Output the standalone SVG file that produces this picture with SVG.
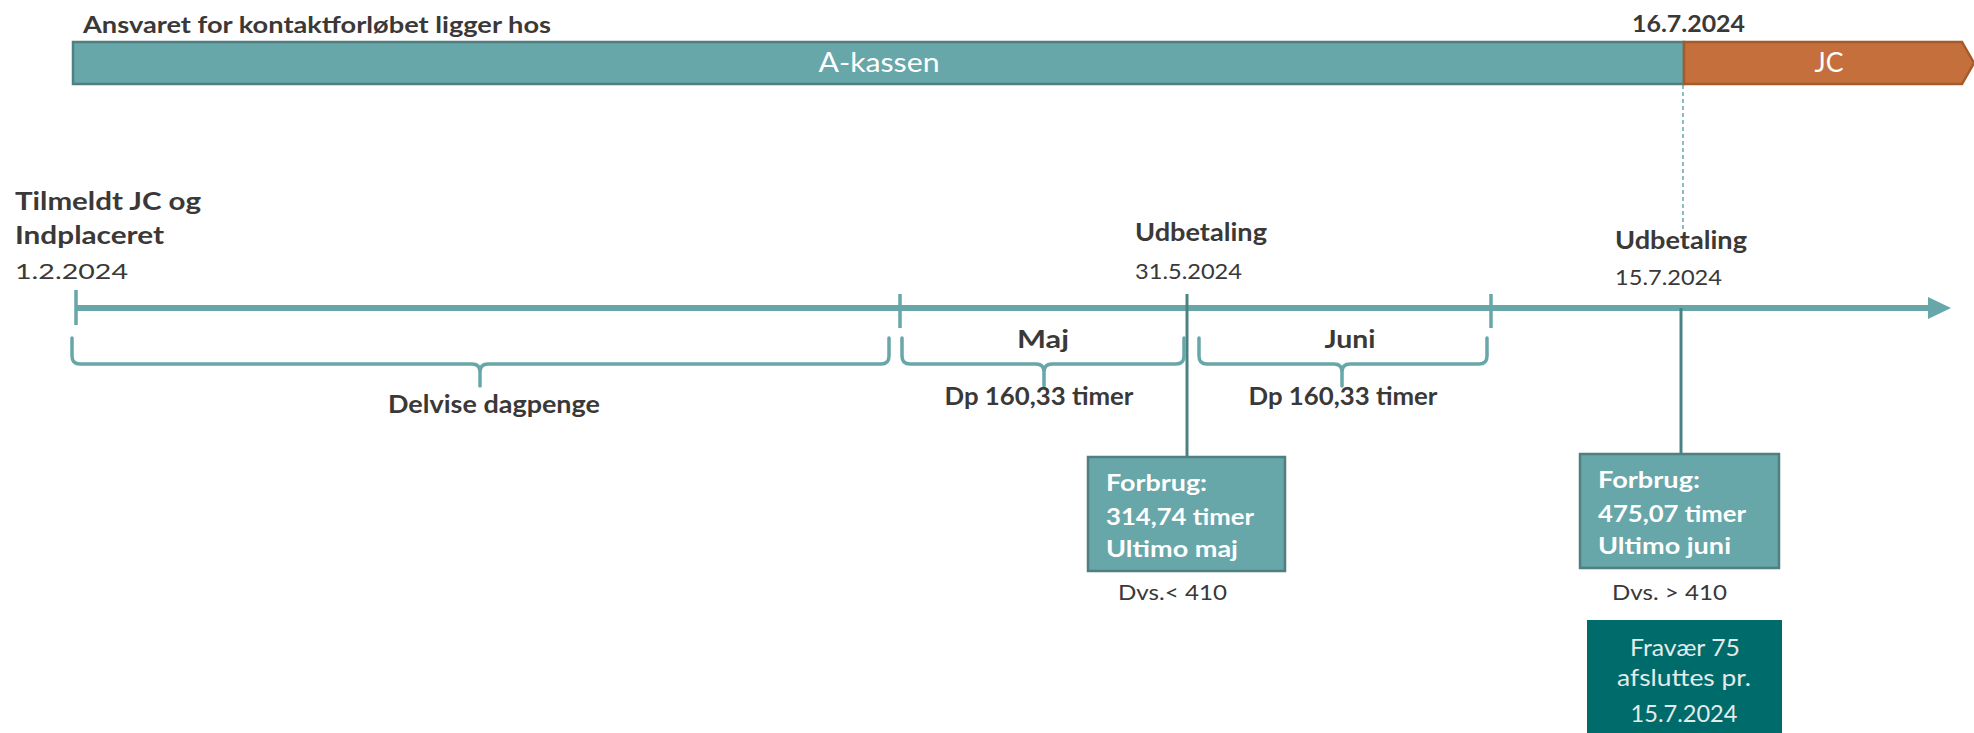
<svg xmlns="http://www.w3.org/2000/svg" width="1974" height="733" viewBox="0 0 1974 733">
<style>
text{font-family:Lato,"Open Sans","Liberation Sans",sans-serif}
.lbl{fill:#3b3838}
.b{font-weight:bold}
.n{font-weight:normal}
.wt{fill:#ffffff}
.bx{fill:#ffffff;font-weight:bold;font-size:23px}
.fr{fill:#e3ecec;font-size:23px}
.brace{fill:none;stroke:#67a6a9;stroke-width:3.5;stroke-linejoin:round;stroke-linecap:round}
.tick{stroke:#67a6a9;stroke-width:3.5}
.drop{stroke:#4a8284;stroke-width:3}
.box{fill:#67a6a9;stroke:#4f7f81;stroke-width:2.5}
</style>
<rect width="1974" height="733" fill="#ffffff"/>

<g id="header">
<text class="lbl b" x="83" y="33" font-size="23" textLength="468" lengthAdjust="spacingAndGlyphs">Ansvaret for kontaktforløbet ligger hos</text>
<text class="lbl b" x="1632" y="32" font-size="23" textLength="113" lengthAdjust="spacingAndGlyphs">16.7.2024</text>
</g>

<g id="akassen">
<rect x="73" y="42" width="1611" height="42" fill="#67a6a9" stroke="#4f7f81" stroke-width="2.5"/>
<text class="wt" x="879" y="72" font-size="27" text-anchor="middle" textLength="121" lengthAdjust="spacingAndGlyphs">A-kassen</text>
</g>

<g id="jc">
<polygon points="1684,42 1962,42 1974,63 1962,84 1684,84" fill="#c5703c" stroke="#a45a2b" stroke-width="2.5"/>
<text class="wt" x="1829" y="72" font-size="27" text-anchor="middle" textLength="29" lengthAdjust="spacingAndGlyphs">JC</text>
</g>

<g id="connectors">
<line x1="1683" y1="85" x2="1683" y2="232" stroke="#67a6a9" stroke-width="1.5" stroke-dasharray="4 3"/>
<line x1="76" y1="308" x2="1930" y2="308" stroke="#67a6a9" stroke-width="6"/>
<polygon points="1928,297 1951,308 1928,319" fill="#67a6a9"/>
<line class="tick" x1="76" y1="290" x2="76" y2="325"/>
<line class="tick" x1="900" y1="294" x2="900" y2="328"/>
<line class="tick" x1="1491" y1="294" x2="1491" y2="328"/>
<line class="drop" x1="1187" y1="294" x2="1187" y2="457"/>
<line class="drop" x1="1681" y1="308" x2="1681" y2="454"/>
<path class="brace" d="M72,338 V356 Q72,364 80,364 H472 Q480,364 480,372 V386 M480,372 Q480,364 488,364 H881 Q889,364 889,356 V338"/>
<path class="brace" d="M902,338 V356 Q902,364 910,364 H1036 Q1044,364 1044,372 V386 M1044,372 Q1044,364 1052,364 H1176 Q1184,364 1184,356 V338"/>
<path class="brace" d="M1199,338 V356 Q1199,364 1207,364 H1334 Q1342,364 1342,372 V386 M1342,372 Q1342,364 1350,364 H1479 Q1487,364 1487,356 V338"/>
</g>

<g id="start">
<text class="lbl b" x="15" y="210" font-size="24" textLength="186" lengthAdjust="spacingAndGlyphs">Tilmeldt JC og</text>
<text class="lbl b" x="15" y="244" font-size="24" textLength="149" lengthAdjust="spacingAndGlyphs">Indplaceret</text>
<text class="lbl n" x="15" y="279" font-size="22" textLength="113" lengthAdjust="spacingAndGlyphs">1.2.2024</text>
</g>

<g id="delvise">
<text class="lbl b" x="494" y="413" font-size="24" text-anchor="middle" textLength="212" lengthAdjust="spacingAndGlyphs">Delvise dagpenge</text>
</g>

<g id="maj">
<text class="lbl b" x="1043" y="348" font-size="24" text-anchor="middle" textLength="52" lengthAdjust="spacingAndGlyphs">Maj</text>
<text class="lbl b" x="1039" y="405" font-size="24" text-anchor="middle" textLength="189" lengthAdjust="spacingAndGlyphs">Dp 160,33 timer</text>
</g>

<g id="juni">
<text class="lbl b" x="1350" y="348" font-size="24" text-anchor="middle" textLength="51" lengthAdjust="spacingAndGlyphs">Juni</text>
<text class="lbl b" x="1343" y="405" font-size="24" text-anchor="middle" textLength="189" lengthAdjust="spacingAndGlyphs">Dp 160,33 timer</text>
</g>

<g id="udbetaling1">
<text class="lbl b" x="1135" y="241" font-size="24" textLength="132" lengthAdjust="spacingAndGlyphs">Udbetaling</text>
<text class="lbl n" x="1135" y="279" font-size="22" textLength="107" lengthAdjust="spacingAndGlyphs">31.5.2024</text>
</g>

<g id="udbetaling2">
<text class="lbl b" x="1615" y="249" font-size="24" textLength="132" lengthAdjust="spacingAndGlyphs">Udbetaling</text>
<text class="lbl n" x="1615" y="285" font-size="22" textLength="107" lengthAdjust="spacingAndGlyphs">15.7.2024</text>
</g>

<g id="forbrug1">
<rect class="box" x="1088" y="457" width="197" height="114"/>
<text class="bx" x="1106" y="491" textLength="101" lengthAdjust="spacingAndGlyphs">Forbrug:</text>
<text class="bx" x="1106" y="525" textLength="148" lengthAdjust="spacingAndGlyphs">314,74 timer</text>
<text class="bx" x="1106" y="557" textLength="132" lengthAdjust="spacingAndGlyphs">Ultimo maj</text>
<text class="lbl n" x="1118" y="600" font-size="22" textLength="109" lengthAdjust="spacingAndGlyphs">Dvs.&lt; 410</text>
</g>

<g id="forbrug2">
<rect class="box" x="1580" y="454" width="199" height="114"/>
<text class="bx" x="1598" y="488" textLength="102" lengthAdjust="spacingAndGlyphs">Forbrug:</text>
<text class="bx" x="1598" y="522" textLength="148" lengthAdjust="spacingAndGlyphs">475,07 timer</text>
<text class="bx" x="1598" y="554" textLength="133" lengthAdjust="spacingAndGlyphs">Ultimo juni</text>
<text class="lbl n" x="1612" y="600" font-size="22" textLength="115" lengthAdjust="spacingAndGlyphs">Dvs. &gt; 410</text>
</g>

<g id="fravaer">
<rect x="1587" y="620" width="195" height="120" fill="#006b6b"/>
<text class="fr" text-anchor="middle" x="1685" y="656" textLength="110" lengthAdjust="spacingAndGlyphs">Fravær 75</text>
<text class="fr" text-anchor="middle" x="1684" y="686" textLength="134" lengthAdjust="spacingAndGlyphs">afsluttes pr.</text>
<text class="fr" text-anchor="middle" x="1684" y="722" textLength="107" lengthAdjust="spacingAndGlyphs">15.7.2024</text>
</g>
</svg>
